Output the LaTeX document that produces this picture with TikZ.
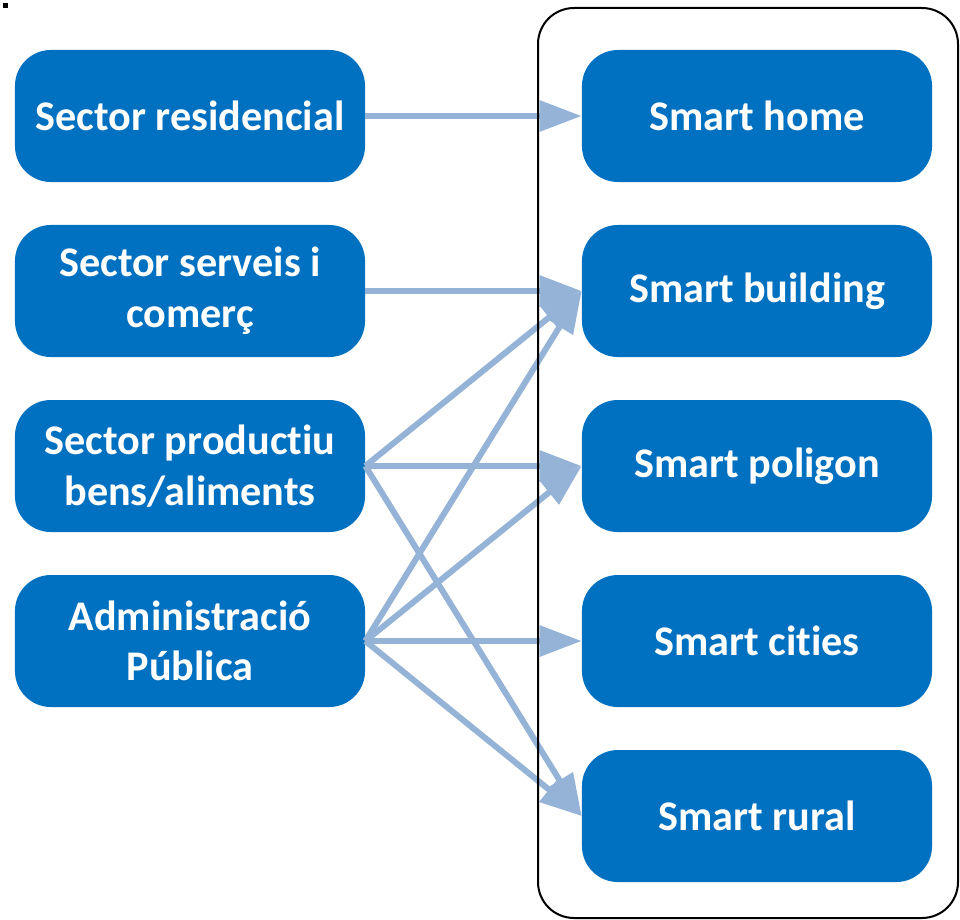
\documentclass[tikz,border=0pt]{standalone}
\usepackage{fontspec}
\setmainfont{Carlito}[Ligatures=NoCommon]
\usetikzlibrary{positioning, arrows.meta}
\definecolor{boxblue}{RGB}{0,112,192}
\definecolor{linkblue}{RGB}{149,179,215}

\begin{document}
\begin{tikzpicture}[x=0.025cm, y=-0.025cm, cell/.style={rectangle, rounded corners=0.9cm, fill=boxblue, text=white, font=\fontsize{30}{36}\selectfont\bfseries, align=center, minimum width=8.75cm, minimum height=3.3cm, inner sep=0pt}, link/.style={-{Triangle[length=1.05cm,width=0.75cm]}, line width=0.15cm, draw=linkblue}]

\useasboundingbox (0,0) rectangle (960,920);
\fill (3,3) rectangle (8,8);

\node[cell] at (190,116) (resid) {Sector residencial};
\node[cell, below = 1.06cm of resid] (serveis) {Sector serveis i\\ comerç};
\node[cell, below = 1.06cm of serveis] (product) {Sector productiu\\ bens/aliments};
\node[cell, below = 1.06cm of product] (admin) {Administració\\ Pública};

\node[cell] at (757,116) (home) {Smart home};
\node[cell, below = 1.06cm of home] (building) {Smart building};
\node[cell, below = 1.06cm of building] (poligon) {Smart poligon};
\node[cell, below = 1.06cm of poligon] (cities) {Smart cities};
\node[cell, below = 1.06cm of cities] (rural) {Smart rural};

\draw[link] (resid.east) -- (home.west);
\draw[link] (serveis.east) -- (building.west);

\draw[link] (product.east) -- (building.west);
\draw[link] (product.east) -- (poligon.west);
\draw[link] (product.east) -- (rural.west);

\draw[link] (admin.east) -- (building.west);
\draw[link] (admin.east) -- (poligon.west);
\draw[link] (admin.east) -- (cities.west);
\draw[link] (admin.east) -- (rural.west);

\draw[rounded corners=0.9cm, line width=0.05cm] (538,8) rectangle (958,918);
\end{tikzpicture}
\end{document}
